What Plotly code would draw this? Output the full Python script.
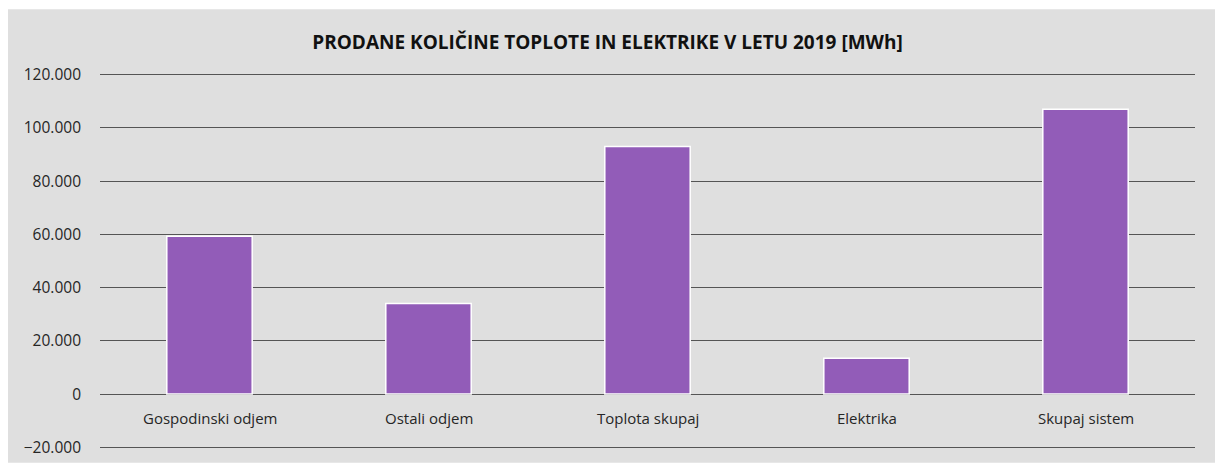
import plotly.graph_objects as go

categories = ["Gospodinski odjem", "Ostali odjem", "Toplota skupaj", "Elektrika", "Skupaj sistem"]
values = [59300, 34000, 93000, 13500, 107000]
title_text = "PRODANE KOLIČINE TOPLOTE IN ELEKTRIKE V LETU 2019 [MWh]"
y_ticks = [-20000, 0, 20000, 40000, 60000, 80000, 100000, 120000]

W, H = 1215, 470
ML, MR, MT, MB = 100, 20, 72, 13
PW, PH = W - ML - MR, H - MT - MB
FONT = "Open Sans, Lato, sans-serif"

fig = go.Figure()
fig.add_trace(go.Bar(
    x=categories, y=values,
    width=0.39,
    marker=dict(color="#925CB8", line=dict(color="#FFFFFF", width=1.5)),
    hoverinfo="x+y",
))

# category labels placed just below the zero line
for c in categories:
    fig.add_annotation(x=c, y=0, xref="x", yref="y", text=c, showarrow=False,
                       yshift=-24, font=dict(family=FONT, size=15, color="#262626"))

# gray chart area with thin white frame at top/left
fig.add_shape(type="rect", xref="paper", yref="paper",
              x0=(8 - ML) / PW, x1=(W - ML) / PW,
              y0=-MB / PH, y1=(H - MB - 8) / PH,
              fillcolor="#DFDFDF", line=dict(width=0), layer="below")

fig.update_layout(
    width=W, height=H,
    margin=dict(l=ML, r=MR, t=MT, b=MB),
    paper_bgcolor="#FFFFFF",
    plot_bgcolor="rgba(0,0,0,0)",
    separators=",.",
    showlegend=False,
    title=dict(text="<b>" + title_text + "</b>", x=0.5, xanchor="center", y=1 - 42 / H, yanchor="middle",
               font=dict(family=FONT, size=19, color="#111111")),
    xaxis=dict(showticklabels=False, showgrid=False, zeroline=False, showline=False, ticks=""),
    yaxis=dict(range=[-21000, 121000], tickvals=y_ticks, tickformat=",d",
               showgrid=True, gridcolor="#555555", gridwidth=1.4,
               zeroline=True, zerolinecolor="#555555", zerolinewidth=1.4,
               showline=False, ticks="", ticklabelstandoff=18,
               tickfont=dict(family=FONT, size=15.5, color="#262626")),
)

fig.write_html("out.html", config={"displayModeBar": False},
               post_script="document.body.style.margin='0';document.body.style.padding='0';")
